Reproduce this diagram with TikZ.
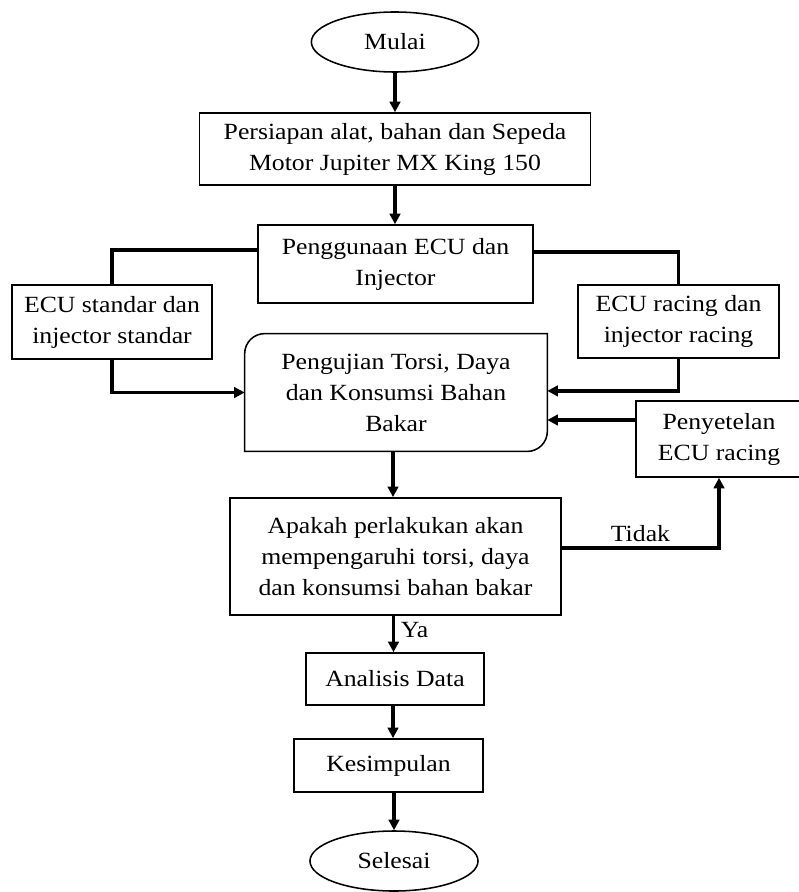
\documentclass[tikz,border=0pt]{standalone}
\usepackage{fontspec}
\setmainfont{Liberation Serif}[FakeStretch=1.11]
\usetikzlibrary{shapes.geometric,arrows.meta}

\begin{document}
\begin{tikzpicture}[x=0.025cm, y=-0.025cm,
	font=\fontsize{16.5}{22}\selectfont,
	box/.style={draw, line width=1.1pt, align=center, inner sep=0pt},
	term/.style={draw, ellipse, line width=1.1pt, inner sep=0pt},
	arrow/.style={line width=2.5pt, -{Triangle[length=7.5pt,width=7.5pt]}},
	link/.style={line width=2.5pt}]
	\useasboundingbox (0,0) rectangle (799,892);

	\node[term, minimum width=4.18cm, minimum height=1.5cm] (mulai) at (395,42) {Mulai};
	\node[box, minimum width=9.78cm, minimum height=1.8cm] (persiapan) at (395,149) {Persiapan alat, bahan dan Sepeda\\Motor Jupiter MX King 150};
	\node[box, minimum width=6.88cm, minimum height=1.95cm] (penggunaan) at (395.5,264) {Penggunaan ECU dan\\Injector};
	\node[box, minimum width=5cm, minimum height=1.85cm] (standar) at (112,322) {ECU standar dan\\injector standar};
	\node[box, minimum width=5.03cm, minimum height=1.83cm] (racing) at (678.5,321.5) {ECU racing dan\\injector racing};
	\node[align=center, inner sep=0pt, minimum width=7.55cm, minimum height=2.93cm] (pengujian) at (396,392.5) {Pengujian Torsi, Daya\\dan Konsumsi Bahan\\Bakar};
	\node[box, minimum width=4.15cm, minimum height=1.9cm] (penyetelan) at (719,439) {Penyetelan\\ECU racing};
	\node[box, minimum width=8.28cm, minimum height=2.93cm] (apakah) at (395.5,556.5) {Apakah perlakukan akan\\mempengaruhi torsi, daya\\dan konsumsi bahan bakar};
	\node[box, minimum width=4.45cm, minimum height=1.3cm] (analisis) at (395,679) {Analisis Data};
	\node[box, minimum width=4.73cm, minimum height=1.33cm] (kesimpulan) at (388.5,765.5) {Kesimpulan};
	\node[term, minimum width=4.2cm, minimum height=1.5cm] (selesai) at (394,861) {Selesai};

	% rounded only at two corners
	\draw[line width=1.1pt] (pengujian.north east) -- ([xshift=0.5cm]pengujian.north west)
		arc[start angle=90, end angle=180, radius=0.5cm] -- (pengujian.south west)
		-- ([xshift=-0.5cm]pengujian.south east)
		arc[start angle=270, end angle=360, radius=0.5cm] -- cycle;

	\draw[arrow] (mulai.south) -- (mulai.south |- persiapan.north);
	\draw[arrow] (persiapan.south) -- (persiapan.south |- penggunaan.north);
	\draw[link] ([yshift=0.35cm]penggunaan.west) -| (standar.north);
	\draw[link] ([yshift=0.3cm]penggunaan.east) -| (racing.north);
	\draw[arrow] (standar.south) |- (pengujian.west);
	\draw[arrow] (racing.south) |- ([yshift=0.04cm]pengujian.east);
	\coordinate (tune) at ([yshift=0.475cm]penyetelan.west);
	\draw[arrow] (tune) -- (tune -| pengujian.east);
	\draw[arrow] ([xshift=-0.075cm]pengujian.south) -- ([xshift=-0.075cm]pengujian.south |- apakah.north);
	\draw[arrow] ([yshift=0.21cm]apakah.east) -| node[pos=0.25, above, inner sep=3pt] {Tidak} (penyetelan.south);
	\draw[arrow] ([xshift=-0.05cm]apakah.south) -- node[pos=0.4, right, inner sep=4pt] {Ya} ([xshift=-0.05cm]apakah.south |- analisis.north);
	\draw[arrow] ([xshift=-0.05cm]analisis.south) -- ([xshift=-0.05cm]analisis.south |- kesimpulan.north);
	\draw[arrow] (selesai.north |- kesimpulan.south) -- (selesai.north);
\end{tikzpicture}
\end{document}
